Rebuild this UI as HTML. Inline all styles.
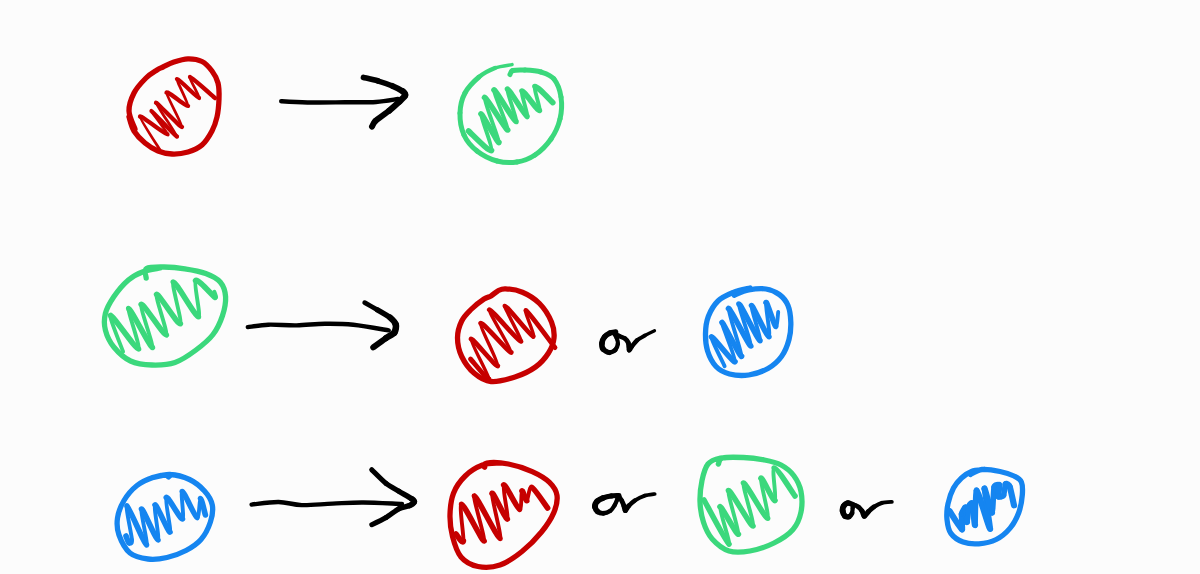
<!DOCTYPE html>
<html><head><meta charset="utf-8"><title>diagram</title>
<style>
html,body{margin:0;padding:0;background:#fcfcfc;width:1200px;height:574px;overflow:hidden;font-family:"Liberation Sans",sans-serif;}
svg{display:block;position:absolute;left:0;top:0;}
</style></head><body>
<svg width="1200" height="574" viewBox="0 0 1200 574">
<g fill="none" stroke-linecap="round" stroke-linejoin="round">
<path d="M135.0 129.0 C134.0 126.0 129.2 117.0 129.0 111.0 C128.8 105.0 131.2 98.5 134.0 93.0 C136.8 87.5 142.2 81.8 146.0 78.0 C149.8 74.2 154.2 71.8 157.0 70.0 C159.8 68.2 160.2 68.3 163.0 67.0 C165.8 65.7 169.8 63.4 174.0 62.0 C178.2 60.6 183.3 58.9 188.0 58.8 C192.7 58.7 198.0 59.5 202.0 61.5 C206.0 63.5 209.3 67.4 212.0 71.0 C214.7 74.6 216.8 78.3 218.0 83.0 C219.2 87.7 219.2 93.3 219.0 99.0 C218.8 104.7 218.2 111.7 217.0 117.0 C215.8 122.3 214.5 126.3 212.0 131.0 C209.5 135.7 206.0 141.5 202.0 145.0 C198.0 148.5 193.0 150.5 188.0 152.0 C183.0 153.5 177.0 154.2 172.0 154.0 C167.0 153.8 162.5 152.8 158.0 151.0 C153.5 149.2 149.0 146.3 145.0 143.0 C141.0 139.7 136.7 135.3 134.0 131.0 C131.3 126.7 129.8 119.3 129.0 117.0" stroke="#c60000" stroke-width="5.30"/>
<path d="M160.0 150.0 C158.0 146.7 139.2 118.0 140.0 116.5" stroke="#c60000" stroke-width="2.80"/>
<path d="M140.0 116.5 C140.8 115.0 166.3 135.1 167.5 134.5" stroke="#c60000" stroke-width="4.30"/>
<path d="M167.5 134.5 C168.7 133.9 150.6 110.8 151.5 111.0" stroke="#c60000" stroke-width="2.80"/>
<path d="M151.5 111.0 C152.4 111.2 176.6 137.3 177.0 136.5" stroke="#c60000" stroke-width="4.30"/>
<path d="M177.0 136.5 C177.4 135.7 155.5 103.8 156.0 102.8" stroke="#c60000" stroke-width="2.80"/>
<path d="M156.0 102.8 C156.5 101.8 180.9 128.0 182.0 127.0" stroke="#c60000" stroke-width="4.30"/>
<path d="M182.0 127.0 C183.1 126.0 165.9 94.6 166.5 92.5" stroke="#c60000" stroke-width="2.80"/>
<path d="M166.5 92.5 C167.1 90.4 186.9 107.3 188.0 106.0" stroke="#c60000" stroke-width="4.30"/>
<path d="M188.0 106.0 C189.1 104.7 175.9 79.8 177.0 79.0" stroke="#c60000" stroke-width="2.80"/>
<path d="M177.0 79.0 C178.1 78.2 197.7 98.2 199.0 98.0" stroke="#c60000" stroke-width="4.30"/>
<path d="M199.0 98.0 C200.3 97.8 188.4 77.0 190.0 77.0" stroke="#c60000" stroke-width="2.80"/>
<path d="M190.0 77.0 C191.6 77.0 212.5 95.9 215.0 98.0" stroke="#c60000" stroke-width="4.30"/>
<path d="M281.2 101.2 C285.6 101.5 296.9 102.3 307.5 102.5 C318.1 102.7 333.6 102.4 345.0 102.3 C356.4 102.2 367.2 102.5 376.0 102.0 C384.8 101.5 394.3 99.5 398.0 99.0" stroke="#000000" stroke-width="4.40"/>
<path d="M363.5 77.4 C365.1 77.8 374.2 79.8 377.6 80.8" stroke="#000000" stroke-width="5.70"/>
<path d="M377.6 80.8 C381.0 81.8 389.4 84.7 392.4 85.9" stroke="#000000" stroke-width="5.40"/>
<path d="M392.4 85.9 C395.4 87.1 401.5 90.4 403.0 91.5" stroke="#000000" stroke-width="5.90"/>
<path d="M403.0 91.5 C404.5 92.6 405.4 94.3 405.0 95.5" stroke="#000000" stroke-width="6.40"/>
<path d="M405.0 95.5 C404.6 96.7 401.1 99.9 399.2 101.7" stroke="#000000" stroke-width="6.50"/>
<path d="M399.2 101.7 C397.3 103.5 391.8 108.5 389.0 110.8" stroke="#000000" stroke-width="6.20"/>
<path d="M389.0 110.8 C386.2 113.1 377.4 119.2 375.4 121.0" stroke="#000000" stroke-width="5.90"/>
<path d="M375.4 121.0 C373.4 122.8 372.4 125.9 372.0 126.6" stroke="#000000" stroke-width="6.00"/>
<path d="M512.0 64.6 C509.2 65.2 500.5 65.9 495.0 68.0" stroke="#3bd87c" stroke-width="3.50"/>
<path d="M495.0 68.0 C489.5 70.1 484.0 72.8 479.0 77.0" stroke="#3bd87c" stroke-width="4.40"/>
<path d="M479.0 77.0 C474.0 81.2 468.2 87.0 465.0 93.0" stroke="#3bd87c" stroke-width="4.90"/>
<path d="M465.0 93.0 C461.8 99.0 460.2 106.0 460.0 113.0" stroke="#3bd87c" stroke-width="5.00"/>
<path d="M460.0 113.0 C459.8 120.0 461.2 128.7 464.0 135.0" stroke="#3bd87c" stroke-width="5.00"/>
<path d="M464.0 135.0 C466.8 141.3 471.5 146.7 477.0 151.0" stroke="#3bd87c" stroke-width="5.00"/>
<path d="M477.0 151.0 C482.5 155.3 490.3 159.2 497.0 161.0" stroke="#3bd87c" stroke-width="5.00"/>
<path d="M497.0 161.0 C503.7 162.8 510.7 163.0 517.0 162.0" stroke="#3bd87c" stroke-width="5.00"/>
<path d="M517.0 162.0 C523.3 161.0 529.3 158.8 535.0 155.0" stroke="#3bd87c" stroke-width="5.00"/>
<path d="M535.0 155.0 C540.7 151.2 546.8 145.0 551.0 139.0" stroke="#3bd87c" stroke-width="5.00"/>
<path d="M551.0 139.0 C555.2 133.0 558.3 126.0 560.0 119.0" stroke="#3bd87c" stroke-width="5.00"/>
<path d="M560.0 119.0 C561.7 112.0 562.0 103.7 561.0 97.0" stroke="#3bd87c" stroke-width="5.00"/>
<path d="M561.0 97.0 C560.0 90.3 557.3 83.2 554.0 79.0" stroke="#3bd87c" stroke-width="5.00"/>
<path d="M554.0 79.0 C550.7 74.8 545.8 73.5 541.0 72.0" stroke="#3bd87c" stroke-width="5.00"/>
<path d="M541.0 72.0 C536.2 70.5 529.7 70.2 525.0 70.0" stroke="#3bd87c" stroke-width="5.00"/>
<path d="M525.0 70.0 C520.3 69.8 515.5 69.8 513.0 70.5" stroke="#3bd87c" stroke-width="5.00"/>
<path d="M513.0 70.5 C510.5 71.2 510.5 73.8 510.0 74.5" stroke="#3bd87c" stroke-width="5.00"/>
<path d="M468.5 131.0 C471.6 133.6 489.8 152.8 491.5 150.5" stroke="#3bd87c" stroke-width="5.60"/>
<path d="M491.5 150.5 C493.2 148.2 480.0 115.1 481.0 114.0" stroke="#3bd87c" stroke-width="3.90"/>
<path d="M481.0 114.0 C482.0 112.9 498.5 144.7 499.0 142.5" stroke="#3bd87c" stroke-width="5.60"/>
<path d="M499.0 142.5 C499.5 140.3 483.3 99.2 484.5 97.5" stroke="#3bd87c" stroke-width="3.90"/>
<path d="M484.5 97.5 C485.7 95.8 506.4 131.0 507.7 130.0" stroke="#3bd87c" stroke-width="5.60"/>
<path d="M507.7 130.0 C509.0 129.0 492.9 91.1 494.0 90.0" stroke="#3bd87c" stroke-width="3.90"/>
<path d="M494.0 90.0 C495.1 88.9 514.2 121.6 516.0 121.5" stroke="#3bd87c" stroke-width="5.60"/>
<path d="M516.0 121.5 C517.8 121.4 506.0 89.7 507.5 89.0" stroke="#3bd87c" stroke-width="3.90"/>
<path d="M507.5 89.0 C509.0 88.3 525.1 116.3 527.0 116.6" stroke="#3bd87c" stroke-width="5.60"/>
<path d="M527.0 116.6 C528.9 116.9 520.3 91.8 522.0 91.0" stroke="#3bd87c" stroke-width="3.90"/>
<path d="M522.0 91.0 C523.7 90.2 537.7 111.1 539.4 110.5" stroke="#3bd87c" stroke-width="5.60"/>
<path d="M539.4 110.5 C541.1 109.9 533.2 87.6 535.0 86.5" stroke="#3bd87c" stroke-width="3.90"/>
<path d="M535.0 86.5 C536.8 85.4 550.4 100.5 552.8 102.6" stroke="#3bd87c" stroke-width="5.60"/>
<path d="M146.2 278.0 C146.2 276.4 143.5 270.3 146.5 268.5 C149.5 266.7 157.6 266.9 164.0 267.0 C170.4 267.1 177.9 267.7 184.8 268.8 C191.8 269.9 199.8 271.3 205.7 273.5 C211.6 275.7 217.1 278.3 220.4 282.2 C223.7 286.1 225.2 291.2 225.6 296.8 C225.9 302.4 224.6 309.3 222.5 315.6 C220.4 321.9 217.4 328.8 213.0 334.5 C208.6 340.2 202.3 345.3 196.0 350.0 C189.7 354.7 182.3 360.0 175.0 362.5 C167.7 365.0 159.4 365.2 152.0 365.0 C144.6 364.8 136.9 364.0 130.5 361.0 C124.1 358.0 118.0 352.1 113.8 347.0 C109.6 341.9 106.8 335.8 105.4 330.2 C104.0 324.6 104.0 319.1 105.4 313.5 C106.8 307.9 110.0 302.4 113.8 296.8 C117.6 291.2 123.5 284.2 128.4 280.0 C133.3 275.8 137.7 273.7 143.0 271.7 C148.3 269.7 157.2 268.6 160.0 268.0" stroke="#3bd87c" stroke-width="5.30"/>
<path d="M123.1 351.7 C121.4 346.9 108.5 315.8 110.6 315.4" stroke="#3bd87c" stroke-width="3.90"/>
<path d="M110.6 315.4 C112.7 315.0 136.1 349.8 138.5 348.9" stroke="#3bd87c" stroke-width="5.60"/>
<path d="M138.5 348.9 C140.9 348.0 126.8 308.7 128.7 308.5" stroke="#3bd87c" stroke-width="3.90"/>
<path d="M128.7 308.5 C130.6 308.3 150.7 348.1 152.4 347.5" stroke="#3bd87c" stroke-width="5.60"/>
<path d="M152.4 347.5 C154.1 346.9 139.3 306.0 141.2 304.3" stroke="#3bd87c" stroke-width="3.90"/>
<path d="M141.2 304.3 C143.1 302.6 164.2 336.3 166.3 335.0" stroke="#3bd87c" stroke-width="5.60"/>
<path d="M166.3 335.0 C168.4 333.7 154.7 296.0 156.6 294.5" stroke="#3bd87c" stroke-width="3.90"/>
<path d="M156.6 294.5 C158.5 293.0 178.1 325.5 180.3 323.8" stroke="#3bd87c" stroke-width="5.60"/>
<path d="M180.3 323.8 C182.5 322.1 170.9 282.9 173.3 282.0" stroke="#3bd87c" stroke-width="3.90"/>
<path d="M173.3 282.0 C175.7 281.1 195.4 317.0 198.4 316.8" stroke="#3bd87c" stroke-width="5.60"/>
<path d="M198.4 316.8 C201.4 316.6 193.4 283.2 195.6 280.6" stroke="#3bd87c" stroke-width="3.90"/>
<path d="M195.6 280.6 C197.8 278.0 212.5 295.8 215.0 297.3" stroke="#3bd87c" stroke-width="5.60"/>
<path d="M215.0 297.3 C217.5 298.8 214.5 292.4 214.4 291.7" stroke="#3bd87c" stroke-width="3.90"/>
<path d="M247.8 327.1 C251.2 326.7 260.2 325.0 268.3 324.7 C276.4 324.4 287.2 325.6 296.7 325.4 C306.1 325.2 315.6 323.8 325.0 323.7 C334.4 323.6 342.7 323.6 353.3 324.7 C363.9 325.8 382.8 329.4 388.7 330.4" stroke="#000000" stroke-width="4.40"/>
<path d="M364.7 302.7 C366.2 303.5 374.4 308.1 377.4 309.8" stroke="#000000" stroke-width="4.80"/>
<path d="M377.4 309.8 C380.4 311.5 388.1 315.9 390.2 317.6" stroke="#000000" stroke-width="5.40"/>
<path d="M390.2 317.6 C392.3 319.3 395.3 323.0 395.8 324.7" stroke="#000000" stroke-width="6.20"/>
<path d="M395.8 324.7 C396.3 326.4 395.6 330.9 394.4 332.5" stroke="#000000" stroke-width="6.60"/>
<path d="M394.4 332.5 C393.2 334.1 388.4 336.5 385.9 338.2" stroke="#000000" stroke-width="6.30"/>
<path d="M385.9 338.2 C383.4 339.9 374.7 346.3 373.2 347.4" stroke="#000000" stroke-width="5.90"/>
<path d="M491.0 296.0 C493.3 294.6 495.6 292.0 498.0 290.8 C500.4 289.6 501.4 288.6 505.5 288.8 C509.6 289.0 516.7 289.8 522.4 292.2 C528.1 294.6 534.6 298.5 539.5 303.5 C544.4 308.5 549.1 316.2 551.5 322.0 C553.9 327.8 554.5 332.8 554.0 338.0 C553.5 343.2 551.6 348.2 548.5 353.0 C545.4 357.8 541.1 363.0 535.5 367.0 C529.9 371.0 522.4 374.6 515.0 377.0 C507.6 379.4 497.8 382.1 491.0 381.5 C484.2 380.9 479.2 377.5 474.3 373.3 C469.4 369.1 464.5 362.4 461.7 356.5 C458.9 350.6 457.5 343.6 457.5 337.7 C457.5 331.8 459.4 325.7 461.7 321.0 C463.9 316.3 467.3 313.2 471.0 309.5 C474.7 305.8 480.7 301.2 484.0 299.0 C487.3 296.8 488.7 297.4 491.0 296.0Z" stroke="#c60000" stroke-width="5.30"/>
<path d="M470.5 359.0 C473.0 361.7 488.9 381.7 489.0 379.0" stroke="#c60000" stroke-width="4.80"/>
<path d="M489.0 379.0 C489.1 376.3 469.8 340.7 471.0 339.0" stroke="#c60000" stroke-width="3.40"/>
<path d="M471.0 339.0 C472.2 337.3 496.5 368.0 497.8 365.9" stroke="#c60000" stroke-width="4.80"/>
<path d="M497.8 365.9 C499.1 363.8 478.9 325.0 480.7 323.2" stroke="#c60000" stroke-width="3.40"/>
<path d="M480.7 323.2 C482.5 321.4 510.1 354.2 511.2 352.4" stroke="#c60000" stroke-width="4.80"/>
<path d="M511.2 352.4 C512.3 350.6 488.0 311.3 489.3 309.8" stroke="#c60000" stroke-width="3.40"/>
<path d="M489.3 309.8 C490.6 308.3 518.9 342.0 521.0 341.5" stroke="#c60000" stroke-width="4.80"/>
<path d="M521.0 341.5 C523.1 341.0 503.4 306.7 505.0 306.0" stroke="#c60000" stroke-width="3.40"/>
<path d="M505.0 306.0 C506.6 305.3 530.4 336.0 533.2 336.6" stroke="#c60000" stroke-width="4.80"/>
<path d="M533.2 336.6 C536.0 337.2 523.0 308.9 525.9 310.4" stroke="#c60000" stroke-width="3.40"/>
<path d="M525.9 310.4 C528.8 311.9 551.1 342.6 555.0 347.6" stroke="#c60000" stroke-width="4.80"/>
<path d="M615.7 331.8 C614.9 332.0 611.5 332.3 610.0 333.0" stroke="#000000" stroke-width="5.25"/>
<path d="M610.0 333.0 C608.5 333.7 605.6 335.7 604.5 337.0" stroke="#000000" stroke-width="5.25"/>
<path d="M604.5 337.0 C603.4 338.3 602.2 341.4 602.0 343.0" stroke="#000000" stroke-width="5.65"/>
<path d="M602.0 343.0 C601.8 344.6 602.1 347.7 603.1 349.0" stroke="#000000" stroke-width="5.65"/>
<path d="M603.1 349.0 C604.1 350.3 607.6 352.4 609.2 352.5" stroke="#000000" stroke-width="5.25"/>
<path d="M609.2 352.5 C610.8 352.6 614.1 351.1 615.3 349.9" stroke="#000000" stroke-width="4.75"/>
<path d="M615.3 349.9 C616.5 348.7 617.7 345.4 617.9 343.8" stroke="#000000" stroke-width="4.35"/>
<path d="M617.9 343.8 C618.1 342.2 617.1 339.0 616.6 337.7" stroke="#000000" stroke-width="4.20"/>
<path d="M616.6 337.7 C616.1 336.4 614.1 333.9 614.4 333.7" stroke="#000000" stroke-width="4.35"/>
<path d="M614.4 333.7 C614.7 333.5 617.4 335.3 618.8 335.9" stroke="#000000" stroke-width="4.50"/>
<path d="M618.8 335.9 C620.2 336.5 623.6 337.6 624.9 338.5" stroke="#000000" stroke-width="4.50"/>
<path d="M624.9 338.5 C626.2 339.4 627.7 341.4 628.3 342.9" stroke="#000000" stroke-width="4.65"/>
<path d="M628.3 342.9 C628.9 344.4 628.7 349.4 629.2 349.9" stroke="#000000" stroke-width="4.90"/>
<path d="M629.2 349.9 C629.7 350.4 630.7 347.7 631.8 346.4" stroke="#000000" stroke-width="4.90"/>
<path d="M631.8 346.4 C632.9 345.1 635.4 341.8 637.1 340.3" stroke="#000000" stroke-width="4.50"/>
<path d="M637.1 340.3 C638.8 338.8 642.6 336.8 644.9 335.5" stroke="#000000" stroke-width="3.90"/>
<path d="M644.9 335.5 C647.2 334.2 653.2 331.3 654.5 330.7" stroke="#000000" stroke-width="3.30"/>
<path d="M734.3 295.2 C736.7 294.3 743.4 291.0 748.7 290.0 C754.0 289.0 760.8 288.2 765.9 289.0 C771.0 289.8 775.6 291.8 779.3 294.5 C783.0 297.2 786.1 300.9 788.0 305.5 C789.9 310.1 790.6 316.3 790.8 322.0 C791.0 327.7 790.5 333.8 789.0 339.5 C787.5 345.2 785.0 351.7 781.5 356.5 C778.0 361.3 773.5 365.4 768.0 368.5 C762.5 371.6 755.1 374.1 748.7 375.0 C742.3 375.9 735.0 375.4 729.5 374.0 C724.0 372.6 719.7 370.4 716.0 366.5 C712.3 362.6 709.2 356.3 707.5 350.8 C705.8 345.3 705.4 339.4 705.5 333.6 C705.6 327.9 706.3 321.7 708.4 316.3 C710.5 310.9 713.9 305.0 718.0 301.0 C722.1 297.0 728.0 294.6 733.3 292.4 C738.6 290.2 747.2 288.7 750.0 288.0" stroke="#1585f0" stroke-width="5.30"/>
<path d="M724.6 366.2 C722.9 362.3 710.1 337.4 711.5 336.8" stroke="#1585f0" stroke-width="3.90"/>
<path d="M711.5 336.8 C712.9 336.2 733.6 363.6 735.0 361.7" stroke="#1585f0" stroke-width="5.60"/>
<path d="M735.0 361.7 C736.4 359.8 721.1 323.2 722.0 322.5" stroke="#1585f0" stroke-width="3.90"/>
<path d="M722.0 322.5 C722.9 321.8 740.7 358.3 741.6 356.4" stroke="#1585f0" stroke-width="5.60"/>
<path d="M741.6 356.4 C742.5 354.5 727.3 309.9 728.5 308.5" stroke="#1585f0" stroke-width="3.90"/>
<path d="M728.5 308.5 C729.7 307.1 749.4 346.6 750.8 346.0" stroke="#1585f0" stroke-width="5.60"/>
<path d="M750.8 346.0 C752.2 345.4 737.8 304.7 739.0 304.0" stroke="#1585f0" stroke-width="3.90"/>
<path d="M739.0 304.0 C740.2 303.3 758.3 340.6 760.0 340.8" stroke="#1585f0" stroke-width="5.60"/>
<path d="M760.0 340.8 C761.7 341.0 750.3 306.0 751.5 305.5" stroke="#1585f0" stroke-width="3.90"/>
<path d="M751.5 305.5 C752.7 305.0 767.1 337.2 769.0 336.8" stroke="#1585f0" stroke-width="5.60"/>
<path d="M769.0 336.8 C770.9 336.4 765.1 303.9 766.0 302.5" stroke="#1585f0" stroke-width="3.90"/>
<path d="M766.0 302.5 C766.9 301.1 774.0 325.1 775.6 326.4" stroke="#1585f0" stroke-width="5.60"/>
<path d="M775.6 326.4 C777.2 327.7 777.9 313.9 778.2 312.0" stroke="#1585f0" stroke-width="3.90"/>
<path d="M168.5 477.0 C168.8 476.6 172.6 474.4 170.0 474.5 C167.4 474.6 158.4 475.7 152.9 477.5 C147.4 479.3 141.8 481.7 137.0 485.5 C132.2 489.3 127.2 495.1 124.0 500.5 C120.8 505.9 118.3 512.2 117.5 518.0 C116.7 523.8 116.9 529.2 119.0 535.0 C121.1 540.8 125.2 549.0 130.0 553.0 C134.8 557.0 141.8 558.2 148.0 559.0 C154.2 559.8 160.7 558.9 167.0 557.5 C173.3 556.1 180.3 553.5 186.0 550.5 C191.7 547.5 196.9 544.2 201.0 539.5 C205.1 534.8 208.5 527.8 210.4 522.0 C212.3 516.2 213.3 510.2 212.3 505.0 C211.3 499.8 208.3 495.2 204.5 491.0 C200.7 486.8 195.2 482.2 189.5 479.5 C183.8 476.8 176.4 474.8 170.0 474.5 C163.6 474.2 154.2 477.4 151.0 478.0" stroke="#1585f0" stroke-width="5.30"/>
<path d="M126.0 536.0 C126.4 536.9 128.2 542.5 129.0 543.0" stroke="#1585f0" stroke-width="5.60"/>
<path d="M129.0 543.0 C129.8 543.5 132.3 544.9 132.0 540.0" stroke="#1585f0" stroke-width="3.90"/>
<path d="M132.0 540.0 C131.7 535.1 125.1 505.3 127.0 506.0" stroke="#1585f0" stroke-width="3.90"/>
<path d="M127.0 506.0 C128.9 506.7 144.6 544.6 146.5 545.0" stroke="#1585f0" stroke-width="5.60"/>
<path d="M146.5 545.0 C148.4 545.4 140.0 509.7 141.5 509.0" stroke="#1585f0" stroke-width="3.90"/>
<path d="M141.5 509.0 C143.0 508.3 156.2 540.5 158.0 540.0" stroke="#1585f0" stroke-width="5.60"/>
<path d="M158.0 540.0 C159.8 539.5 153.4 506.1 155.0 505.0" stroke="#1585f0" stroke-width="3.90"/>
<path d="M155.0 505.0 C156.6 503.9 168.5 533.0 170.0 532.0" stroke="#1585f0" stroke-width="5.60"/>
<path d="M170.0 532.0 C171.5 531.0 164.6 499.2 166.3 497.5" stroke="#1585f0" stroke-width="3.90"/>
<path d="M166.3 497.5 C168.0 495.8 180.4 519.8 182.5 519.0" stroke="#1585f0" stroke-width="5.60"/>
<path d="M182.5 519.0 C184.6 518.2 180.3 491.7 182.2 491.5" stroke="#1585f0" stroke-width="3.90"/>
<path d="M182.2 491.5 C184.1 491.3 194.6 516.6 197.0 517.5" stroke="#1585f0" stroke-width="5.60"/>
<path d="M197.0 517.5 C199.4 518.4 199.4 498.8 200.5 498.5" stroke="#1585f0" stroke-width="3.90"/>
<path d="M200.5 498.5 C201.6 498.2 204.7 512.8 205.4 515.0" stroke="#1585f0" stroke-width="5.60"/>
<path d="M251.6 504.6 C256.1 504.2 270.1 501.9 278.5 502.0 C286.9 502.1 292.7 504.8 301.7 505.1 C310.7 505.4 322.2 504.0 332.5 503.6 C342.8 503.2 351.7 502.4 363.3 502.5 C374.9 502.6 395.6 503.8 402.0 504.0" stroke="#000000" stroke-width="4.40"/>
<path d="M371.8 469.8 C373.5 471.4 382.9 481.0 386.1 483.5" stroke="#000000" stroke-width="5.20"/>
<path d="M386.1 483.5 C389.3 486.0 396.2 489.6 399.2 491.4" stroke="#000000" stroke-width="5.00"/>
<path d="M399.2 491.4 C402.2 493.2 410.2 497.8 412.0 499.0" stroke="#000000" stroke-width="5.30"/>
<path d="M412.0 499.0 C413.8 500.2 414.5 501.2 414.2 502.0" stroke="#000000" stroke-width="5.80"/>
<path d="M414.2 502.0 C413.9 502.8 411.4 504.7 409.7 505.5" stroke="#000000" stroke-width="5.80"/>
<path d="M409.7 505.5 C407.9 506.3 402.0 507.2 399.2 508.6" stroke="#000000" stroke-width="5.40"/>
<path d="M399.2 508.6 C396.4 510.0 389.3 515.6 386.1 517.5" stroke="#000000" stroke-width="5.10"/>
<path d="M386.1 517.5 C382.9 519.4 373.5 523.9 371.8 524.7" stroke="#000000" stroke-width="5.00"/>
<path d="M484.7 467.3 C485.1 466.6 482.9 463.6 486.8 463.0 C490.8 462.4 500.8 462.6 508.4 464.0 C516.0 465.4 525.4 468.5 532.2 471.6 C539.1 474.7 545.4 478.4 549.5 482.4 C553.6 486.4 556.3 490.4 557.0 495.4 C557.7 500.4 556.4 506.5 553.8 512.6 C551.2 518.7 546.8 525.5 541.5 532.0 C536.2 538.5 528.9 546.0 522.0 551.5 C515.1 557.0 507.3 562.5 500.0 565.0 C492.7 567.5 484.5 567.8 478.0 566.5 C471.5 565.2 465.2 562.0 461.0 557.0 C456.8 552.0 454.3 543.4 452.5 536.4 C450.7 529.4 449.8 522.0 450.0 514.8 C450.2 507.6 451.0 499.7 453.5 493.2 C456.0 486.7 460.4 480.7 465.2 476.0 C470.0 471.3 476.7 467.3 482.5 465.1 C488.3 462.9 497.1 463.4 500.0 463.0" stroke="#c60000" stroke-width="5.30"/>
<path d="M456.0 534.0 C457.0 534.9 462.7 544.9 463.4 541.0" stroke="#c60000" stroke-width="5.60"/>
<path d="M463.4 541.0 C464.1 537.1 458.8 504.4 461.6 504.4" stroke="#c60000" stroke-width="3.90"/>
<path d="M461.6 504.4 C464.4 504.4 482.4 542.1 484.1 541.0" stroke="#c60000" stroke-width="5.60"/>
<path d="M484.1 541.0 C485.8 539.9 472.3 496.2 474.4 495.9" stroke="#c60000" stroke-width="3.90"/>
<path d="M474.4 495.9 C476.5 495.6 497.7 538.8 500.0 538.5" stroke="#c60000" stroke-width="5.60"/>
<path d="M500.0 538.5 C502.3 538.2 491.0 496.0 492.0 493.4" stroke="#c60000" stroke-width="3.90"/>
<path d="M492.0 493.4 C493.0 490.8 505.7 520.1 507.3 519.0" stroke="#c60000" stroke-width="5.60"/>
<path d="M507.3 519.0 C508.9 517.9 502.1 486.2 503.7 484.9" stroke="#c60000" stroke-width="3.90"/>
<path d="M503.7 484.9 C505.3 483.6 517.1 508.5 519.5 509.3" stroke="#c60000" stroke-width="5.60"/>
<path d="M519.5 509.3 C521.9 510.1 521.0 492.1 522.0 491.0" stroke="#c60000" stroke-width="3.90"/>
<path d="M522.0 491.0 C523.0 489.9 525.5 501.2 526.8 500.7" stroke="#c60000" stroke-width="5.60"/>
<path d="M526.8 500.7 C528.1 500.2 528.9 486.3 531.7 487.3" stroke="#c60000" stroke-width="3.90"/>
<path d="M531.7 487.3 C534.5 488.3 545.5 505.2 547.6 508.0" stroke="#c60000" stroke-width="5.60"/>
<path d="M619.0 495.5 C617.9 495.6 613.1 495.7 611.0 496.0" stroke="#000000" stroke-width="5.00"/>
<path d="M611.0 496.0 C608.9 496.3 604.9 497.3 603.0 498.0" stroke="#000000" stroke-width="5.25"/>
<path d="M603.0 498.0 C601.1 498.7 598.1 500.4 597.0 501.5" stroke="#000000" stroke-width="5.75"/>
<path d="M597.0 501.5 C595.9 502.6 594.9 505.2 595.0 506.5" stroke="#000000" stroke-width="6.00"/>
<path d="M595.0 506.5 C595.1 507.8 596.4 510.6 597.5 511.5" stroke="#000000" stroke-width="5.60"/>
<path d="M597.5 511.5 C598.6 512.4 601.8 513.4 603.5 513.3" stroke="#000000" stroke-width="4.85"/>
<path d="M603.5 513.3 C605.2 513.2 608.5 512.0 610.0 511.0" stroke="#000000" stroke-width="4.40"/>
<path d="M610.0 511.0 C611.5 510.0 613.6 507.0 614.5 505.5" stroke="#000000" stroke-width="4.30"/>
<path d="M614.5 505.5 C615.4 504.0 616.5 501.3 617.0 500.0" stroke="#000000" stroke-width="4.30"/>
<path d="M617.0 500.0 C617.5 498.7 618.0 495.9 618.6 496.0" stroke="#000000" stroke-width="4.30"/>
<path d="M618.6 496.0 C619.2 496.1 620.9 499.2 621.6 500.5" stroke="#000000" stroke-width="4.40"/>
<path d="M621.6 500.5 C622.3 501.8 623.5 504.7 624.0 506.0" stroke="#000000" stroke-width="4.75"/>
<path d="M624.0 506.0 C624.5 507.3 624.7 510.5 625.3 510.5" stroke="#000000" stroke-width="5.10"/>
<path d="M625.3 510.5 C625.9 510.5 627.3 507.3 628.6 506.0" stroke="#000000" stroke-width="5.00"/>
<path d="M628.6 506.0 C629.9 504.7 632.6 502.1 634.7 500.7" stroke="#000000" stroke-width="4.50"/>
<path d="M634.7 500.7 C636.8 499.3 641.6 496.7 644.3 495.8" stroke="#000000" stroke-width="4.00"/>
<path d="M644.3 495.8 C647.0 494.9 653.3 494.2 654.7 494.0" stroke="#000000" stroke-width="3.70"/>
<path d="M718.4 464.0 C719.1 463.0 718.4 459.1 722.6 458.0 C726.8 456.9 736.5 457.2 743.5 457.5 C750.5 457.8 758.1 458.8 764.4 460.0 C770.7 461.2 776.2 462.4 781.1 465.0 C786.0 467.6 790.4 471.1 793.7 475.5 C797.0 479.9 799.8 485.4 801.0 491.5 C802.2 497.6 802.3 505.7 801.0 512.0 C799.7 518.3 797.5 524.3 793.0 529.5 C788.5 534.7 781.2 539.4 774.0 543.0 C766.8 546.6 757.5 549.7 750.0 551.0 C742.5 552.3 735.3 553.0 729.0 551.0 C722.7 549.0 716.5 543.8 712.2 539.0 C708.0 534.2 705.5 528.6 703.5 522.3 C701.5 516.0 700.2 508.4 700.0 501.4 C699.8 494.4 700.7 486.7 702.0 480.5 C703.3 474.3 704.9 467.8 708.0 464.0 C711.1 460.2 715.2 459.1 720.5 458.0 C725.8 456.9 736.8 457.6 740.0 457.5" stroke="#3bd87c" stroke-width="5.30"/>
<path d="M704.0 500.0 C707.3 505.9 726.9 543.3 729.0 544.2" stroke="#3bd87c" stroke-width="5.60"/>
<path d="M729.0 544.2 C731.1 545.1 718.7 508.1 720.0 506.8" stroke="#3bd87c" stroke-width="3.90"/>
<path d="M720.0 506.8 C721.3 505.5 737.3 536.4 738.4 534.2" stroke="#3bd87c" stroke-width="5.60"/>
<path d="M738.4 534.2 C739.5 532.0 726.6 491.6 728.5 490.5" stroke="#3bd87c" stroke-width="3.90"/>
<path d="M728.5 490.5 C730.4 489.4 751.0 527.0 753.0 526.0" stroke="#3bd87c" stroke-width="5.60"/>
<path d="M753.0 526.0 C755.0 525.0 741.6 484.0 743.5 483.0" stroke="#3bd87c" stroke-width="3.90"/>
<path d="M743.5 483.0 C745.4 482.0 765.3 518.9 767.6 518.3" stroke="#3bd87c" stroke-width="5.60"/>
<path d="M767.6 518.3 C769.9 517.7 759.9 480.7 760.9 478.3" stroke="#3bd87c" stroke-width="3.90"/>
<path d="M760.9 478.3 C761.9 475.9 773.2 501.9 775.0 500.5" stroke="#3bd87c" stroke-width="5.60"/>
<path d="M775.0 500.5 C776.8 499.1 771.5 468.6 774.2 468.0" stroke="#3bd87c" stroke-width="3.90"/>
<path d="M774.2 468.0 C776.9 467.4 792.2 492.3 795.0 496.0" stroke="#3bd87c" stroke-width="5.60"/>
<path d="M853.5 505.0 C852.8 504.7 849.3 502.9 848.0 503.0" stroke="#000000" stroke-width="5.50"/>
<path d="M848.0 503.0 C846.7 503.1 844.4 504.9 843.7 506.0" stroke="#000000" stroke-width="5.70"/>
<path d="M843.7 506.0 C843.0 507.1 842.5 509.7 842.7 511.0" stroke="#000000" stroke-width="5.90"/>
<path d="M842.7 511.0 C842.9 512.3 844.1 515.2 844.9 516.0" stroke="#000000" stroke-width="5.85"/>
<path d="M844.9 516.0 C845.7 516.8 847.9 517.2 848.8 516.8" stroke="#000000" stroke-width="5.50"/>
<path d="M848.8 516.8 C849.7 516.4 851.5 514.4 852.0 513.2" stroke="#000000" stroke-width="4.85"/>
<path d="M852.0 513.2 C852.5 512.0 852.5 509.1 852.7 508.0" stroke="#000000" stroke-width="4.25"/>
<path d="M852.7 508.0 C852.9 506.9 852.7 505.1 853.5 505.0" stroke="#000000" stroke-width="4.10"/>
<path d="M853.5 505.0 C854.3 504.9 857.4 506.2 858.5 507.0" stroke="#000000" stroke-width="4.40"/>
<path d="M858.5 507.0 C859.6 507.8 861.3 510.0 862.1 511.2" stroke="#000000" stroke-width="4.80"/>
<path d="M862.1 511.2 C862.9 512.4 863.5 516.2 864.3 516.3" stroke="#000000" stroke-width="5.10"/>
<path d="M864.3 516.3 C865.1 516.4 867.1 512.9 868.4 511.6" stroke="#000000" stroke-width="5.10"/>
<path d="M868.4 511.6 C869.7 510.3 872.1 508.0 873.9 506.9" stroke="#000000" stroke-width="4.75"/>
<path d="M873.9 506.9 C875.7 505.8 879.3 503.7 881.7 503.0" stroke="#000000" stroke-width="4.25"/>
<path d="M881.7 503.0 C884.1 502.3 890.5 502.0 891.9 501.9" stroke="#000000" stroke-width="3.70"/>
<path d="M970.5 474.5 C972.4 473.7 977.1 470.0 982.0 469.5 C986.9 469.0 994.7 470.4 1000.0 471.5 C1005.3 472.6 1010.4 474.2 1014.0 476.0 C1017.6 477.8 1020.0 478.8 1021.4 482.0 C1022.8 485.2 1022.7 489.9 1022.3 495.0 C1021.9 500.1 1020.8 507.0 1018.8 512.5 C1016.8 518.0 1013.9 523.6 1010.1 528.1 C1006.3 532.6 1001.4 536.9 996.2 539.5 C991.0 542.1 984.3 543.4 978.8 543.8 C973.3 544.2 967.8 543.8 963.1 542.1 C958.5 540.4 953.6 537.2 950.9 533.4 C948.2 529.6 947.5 524.3 947.0 519.4 C946.5 514.5 946.9 509.0 948.0 503.8 C949.1 498.6 951.2 492.4 953.5 488.1 C955.8 483.8 958.5 480.8 961.5 478.0 C964.5 475.2 967.8 472.9 971.5 471.5 C975.2 470.1 981.9 469.8 984.0 469.5" stroke="#1585f0" stroke-width="5.30"/>
<path d="M949.5 511.0 C950.8 512.9 960.8 529.2 962.0 529.5" stroke="#1585f0" stroke-width="6.20"/>
<path d="M962.0 529.5 C963.2 529.8 961.1 516.2 961.5 514.0" stroke="#1585f0" stroke-width="5.60"/>
<path d="M961.5 514.0 C961.9 511.8 965.0 506.7 965.5 507.5" stroke="#1585f0" stroke-width="5.60"/>
<path d="M965.5 507.5 C966.0 508.3 966.6 522.1 967.0 522.0" stroke="#1585f0" stroke-width="6.20"/>
<path d="M967.0 522.0 C967.4 521.9 968.5 507.9 969.0 506.0" stroke="#1585f0" stroke-width="5.60"/>
<path d="M969.0 506.0 C969.5 504.1 971.9 501.6 972.5 503.5" stroke="#1585f0" stroke-width="5.60"/>
<path d="M972.5 503.5 C973.1 505.4 974.6 526.3 975.0 525.0" stroke="#1585f0" stroke-width="6.20"/>
<path d="M975.0 525.0 C975.4 523.7 975.2 490.1 976.7 490.5" stroke="#1585f0" stroke-width="5.60"/>
<path d="M976.7 490.5 C978.2 490.9 989.3 529.1 990.1 528.9" stroke="#1585f0" stroke-width="6.20"/>
<path d="M990.1 528.9 C990.9 528.7 984.2 490.1 984.4 488.5" stroke="#1585f0" stroke-width="5.60"/>
<path d="M984.4 488.5 C984.6 486.9 991.0 512.8 992.0 512.6" stroke="#1585f0" stroke-width="6.20"/>
<path d="M992.0 512.6 C993.0 512.5 993.4 489.8 994.1 487.0" stroke="#1585f0" stroke-width="5.60"/>
<path d="M994.1 487.0 C994.8 484.2 998.9 484.1 999.3 485.0" stroke="#1585f0" stroke-width="5.60"/>
<path d="M999.3 485.0 C999.7 485.9 997.9 495.4 998.3 496.5" stroke="#1585f0" stroke-width="6.20"/>
<path d="M998.3 496.5 C998.7 497.6 1002.8 496.8 1003.5 495.5" stroke="#1585f0" stroke-width="5.60"/>
<path d="M1003.5 495.5 C1004.2 494.2 1005.0 484.9 1005.6 484.0" stroke="#1585f0" stroke-width="5.60"/>
<path d="M1005.6 484.0 C1006.2 483.1 1009.0 484.9 1009.8 487.0" stroke="#1585f0" stroke-width="6.20"/>
<path d="M1009.8 487.0 C1010.6 489.1 1013.6 503.5 1014.0 505.3" stroke="#1585f0" stroke-width="6.20"/>
</g></svg>
</body></html>
